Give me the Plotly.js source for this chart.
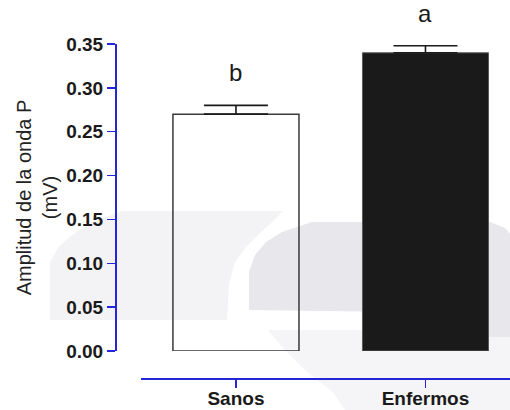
<!DOCTYPE html>
<html>
<head>
<meta charset="utf-8">
<script src="https://cdn.plot.ly/plotly-3.0.1.min.js"></script>
<style>
  html, body { margin: 0; padding: 0; background: #ffffff; }
  #chart { width: 510px; height: 410px; }
</style>
</head>
<body>
<div id="chart"></div>
<script>
// P-wave amplitude by group (mean and SEM, mV)
const groups = ['Sanos', 'Enfermos'];
const meanAmplitude = [0.27, 0.34];
const semAmplitude = [0.010, 0.008];
const significance = ['b', 'a'];
const yTicks = [0, 0.05, 0.10, 0.15, 0.20, 0.25, 0.30, 0.35];

const axisBlue = '#2626d9';
const ink = '#1a1a1a';

// page-pixel to paper conversion for the background emblem
const M = { l: 115, r: 0, t: 44, b: 32 };
const W = 510, H = 410;
function toPaper(pts) {
  const pw = W - M.l - M.r, ph = H - M.t - M.b;
  return 'M ' + pts.map(p => ((p[0] - M.l) / pw).toFixed(4) + ',' + ((H - M.b - p[1]) / ph).toFixed(4)).join(' L ') + ' Z';
}
const emblem = [
  { fill: '#f5f5f7', pts: [[268,330],[510,330],[510,410],[345,410],[333,392],[305,370],[285,350]] },
  { fill: '#f3f3f6', pts: [[122,211],[283,211],[272,222],[258,235],[245,248],[235,262],[229,285],[227,320],[50,320],[50,262],[58,248],[72,235],[92,222]] },
  { fill: '#e7e7ec', pts: [[312,222],[490,222],[505,228],[510,234],[510,337],[470,337],[440,325],[400,312],[249,310],[249,272],[255,255],[266,242],[282,232]] }
];
const shapes = emblem.map(s => ({
  type: 'path', xref: 'paper', yref: 'paper', layer: 'below',
  path: toPaper(s.pts), fillcolor: s.fill, line: { width: 0 }
}));

const trace = {
  type: 'bar',
  x: groups,
  y: meanAmplitude,
  width: 0.665,
  marker: {
    color: ['rgba(255,255,255,0)', ink],
    line: { color: ['#3a3a3a', '#5a5a5a'], width: [1.5, 1] }
  },
  error_y: {
    type: 'data',
    symmetric: false,
    array: semAmplitude,
    arrayminus: [0, 0],
    color: ink,
    thickness: 1.6,
    width: 32
  },
  hoverinfo: 'none'
};

const annotations = groups.map((g, i) => ({
  x: g, y: meanAmplitude[i] + semAmplitude[i],
  xref: 'x', yref: 'y',
  text: significance[i],
  showarrow: false,
  yanchor: 'bottom',
  yshift: 17,
  font: { family: 'Liberation Sans, Arial, sans-serif', size: 24, color: ink }
}));

const layout = {
  width: W, height: H,
  margin: { l: M.l, r: M.r, t: M.t, b: M.b, pad: 0 },
  paper_bgcolor: '#ffffff',
  plot_bgcolor: 'rgba(0,0,0,0)',
  showlegend: false,
  font: { family: 'Liberation Sans, Arial, sans-serif', color: ink },
  xaxis: {
    type: 'category',
    domain: [26 / 395, 1],
    range: [-0.501, 1.446],
    anchor: 'free', position: 0,
    showline: true, linecolor: axisBlue, linewidth: 1.5,
    ticks: 'outside', ticklen: 8, tickcolor: axisBlue, tickwidth: 1.5,
    ticklabelstandoff: -5,
    tickfont: { size: 19, weight: 'bold', color: ink },
    showgrid: false, zeroline: false
  },
  yaxis: {
    domain: [27 / 334, 1],
    range: [0, 0.35],
    anchor: 'free', position: 0,
    tickvals: yTicks,
    tickformat: '.2f',
    showline: true, linecolor: axisBlue, linewidth: 1.5,
    ticks: 'outside', ticklen: 8, tickcolor: axisBlue, tickwidth: 1.5,
    tickfont: { size: 19, weight: 'bold', color: ink },
    showgrid: false, zeroline: false,
    title: { text: 'Amplitud de la onda P<br>(mV)', font: { size: 20, color: '#222222' }, standoff: 1 }
  },
  shapes: shapes,
  annotations: annotations
};

Plotly.newPlot('chart', [trace], layout, { displayModeBar: false, staticPlot: true });
</script>
</body>
</html>
